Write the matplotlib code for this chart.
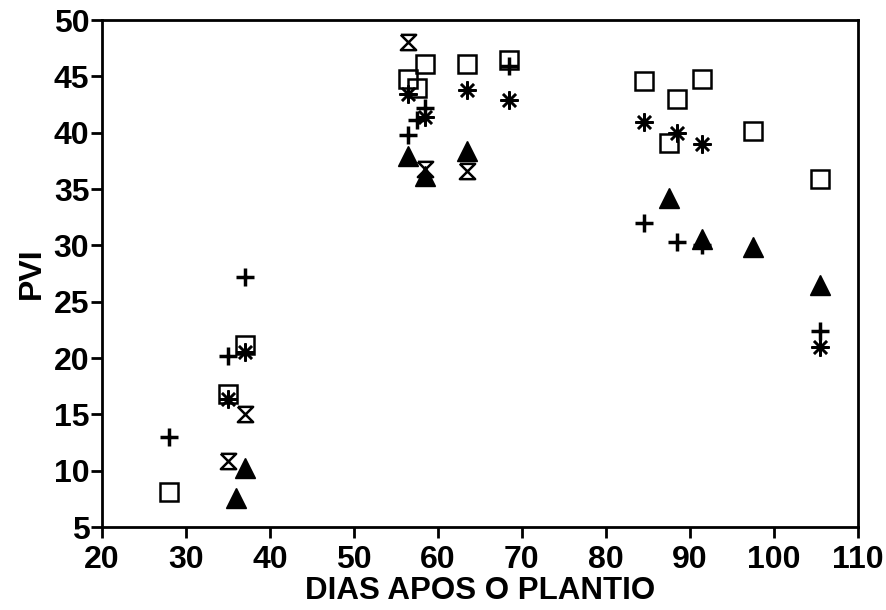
import matplotlib.pyplot as plt
import numpy as np
from matplotlib.path import Path

plt.rcParams['font.family'] = ['Liberation Sans', 'DejaVu Sans']

# days after planting / PVI for each symbol series
sq_x = [28, 35, 37, 56.5, 57.5, 58.5, 63.5, 68.5, 84.5, 87.5, 88.5, 91.5, 97.5, 105.5]
sq_y = [8.1, 16.8, 21.2, 44.8, 44.0, 46.1, 46.1, 46.5, 44.6, 39.1, 43.0, 44.8, 40.2, 35.9]

plus_x = [28, 35, 37, 56.5, 57.5, 58.5, 68.5, 84.5, 88.5, 91.5, 105.5]
plus_y = [13.0, 20.2, 27.2, 39.8, 41.1, 42.2, 45.9, 32.0, 30.3, 30.0, 22.4]

ast_x = [35, 37, 56.5, 58.5, 63.5, 68.5, 84.5, 88.5, 91.5, 105.5]
ast_y = [16.4, 20.5, 43.4, 41.4, 43.8, 42.9, 41.0, 40.0, 39.0, 21.0]

hg_x = [35, 37, 56.5, 58.5, 63.5]
hg_y = [10.9, 15.0, 48.1, 36.8, 36.6]

tri_x = [36, 37, 56.5, 58.5, 63.5, 87.5, 91.5, 97.5, 105.5]
tri_y = [7.6, 10.2, 37.9, 36.2, 38.4, 34.2, 30.6, 29.9, 26.5]

hourglass = Path([(-1, 1), (1, 1), (-1, -1), (1, -1), (-1, 1)],
                 [Path.MOVETO, Path.LINETO, Path.LINETO, Path.LINETO, Path.LINETO])

fig = plt.figure(figsize=(8.86, 6.10), dpi=100)
ax = fig.add_axes([0.115, 0.136, 0.853, 0.831])

ax.plot(sq_x, sq_y, ls='none', marker='s', ms=13, mfc='none', mec='black', mew=1.8)
ax.plot(plus_x, plus_y, ls='none', marker='+', ms=13, mec='black', mew=2.5)
ax.plot(ast_x, ast_y, ls='none', marker=(8, 2, 0), ms=13, mec='black', mew=1.8)
ax.plot(hg_x, hg_y, ls='none', marker=hourglass, ms=11, mfc='none', mec='black', mew=1.8)
ax.plot(tri_x, tri_y, ls='none', marker='^', ms=15, mfc='black', mec='black')

ax.set_xlim(20, 110)
ax.set_ylim(5, 50)
ax.set_xticks(np.arange(20, 111, 10))
ax.set_yticks(np.arange(5, 51, 5))
for s in ax.spines.values():
    s.set_linewidth(2)
ax.tick_params(direction='out', length=8, width=2, labelsize=23)
ax.tick_params(axis='x', pad=5)
ax.tick_params(axis='y', pad=1)
for lab in ax.get_xticklabels() + ax.get_yticklabels():
    lab.set_fontweight('bold')

ax.set_xlabel('DIAS APOS O PLANTIO', fontsize=22.5, fontweight='bold', labelpad=1)
ax.set_ylabel('PVI', fontsize=23, fontweight='bold', labelpad=5)

plt.savefig('out.png', dpi=100)
